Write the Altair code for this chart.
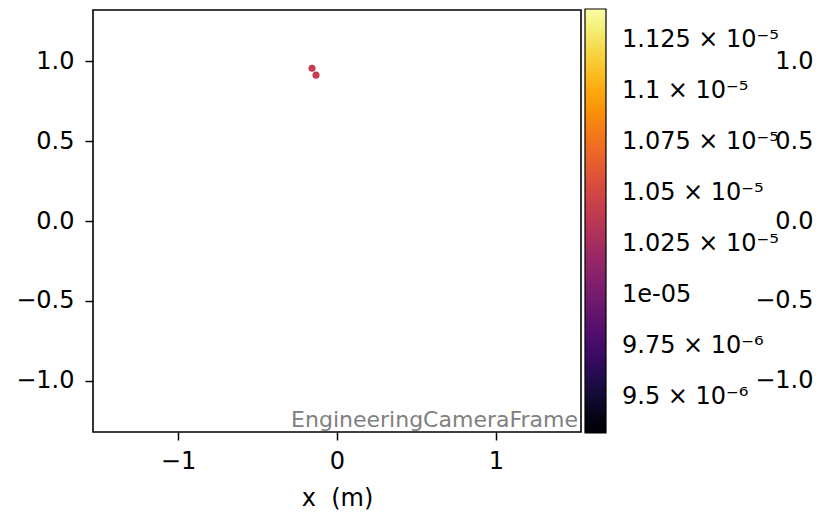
import altair as alt
import pandas as pd

# data
pt_x = [-0.157, -0.132]
pt_y = [0.956, 0.9125]
pt_c = [1.042e-05, 1.042e-05]

x_ticks = [-1, 0, 1]
y_ticks = [-1.0, -0.5, 0.0, 0.5, 1.0]
x_domain = [-1.535, 1.535]
y_domain = [-1.32, 1.32]

cb_domain = [0.9322e-05, 1.1404e-05]
cb_values = [9.5e-06, 9.75e-06, 1.0e-05, 1.025e-05, 1.05e-05, 1.075e-05, 1.1e-05, 1.125e-05]
cb_labels = ["9.5 × 10⁻⁶", "9.75 × 10⁻⁶", "1e-05", "1.025 × 10⁻⁵",
             "1.05 × 10⁻⁵", "1.075 × 10⁻⁵", "1.1 × 10⁻⁵", "1.125 × 10⁻⁵"]

frame_label = ["EngineeringCameraFrame"]
x_title = "x\u00a0 (m)"

pts = pd.DataFrame({"x": pt_x, "y": pt_y, "c": pt_c})
ann = pd.DataFrame({"x": [x_domain[1]], "y": [y_domain[0]], "t": frame_label})

expr = "''"
for v, lab in reversed(list(zip(cb_values, cb_labels))):
    expr = f"abs(datum.value - {v!r}) < 1e-9 ? '{lab}' : {expr}"

FONT = "DejaVu Sans"

xscale = alt.Scale(domain=x_domain, nice=False, zero=False)
yscale = alt.Scale(domain=y_domain, nice=False, zero=False)

xaxis = alt.Axis(values=x_ticks, format="d", grid=False, domain=False,
                 tickColor="black", tickSize=8, tickWidth=1.5,
                 labelFontSize=24, labelColor="black", labelFont=FONT,
                 labelPadding=9, titleFontSize=24, titleFont=FONT,
                 titleFontWeight="normal", titleColor="black", titlePadding=13)

points = alt.Chart(pts).mark_circle(size=50, opacity=1).encode(
    x=alt.X("x:Q", scale=xscale, title=x_title, axis=xaxis),
    y=alt.Y("y:Q", scale=yscale, title=None,
            axis=alt.Axis(values=y_ticks, format=".1f", grid=False, domain=False,
                          tickColor="black", tickSize=8, tickWidth=1.5,
                          labelFontSize=24, labelColor="black", labelFont=FONT,
                          labelPadding=11)),
    color=alt.Color("c:Q", title=None,
                    scale=alt.Scale(scheme="inferno", domain=cb_domain, zero=False, nice=False),
                    legend=alt.Legend(orient="none", legendX=492, legendY=-1,
                                      direction="vertical", gradientLength=424,
                                      gradientThickness=21, gradientStrokeColor="black",
                                      gradientStrokeWidth=1.2, values=cb_values,
                                      labelExpr=expr, labelFontSize=24, labelColor="black",
                                      labelFont=FONT, labelOffset=16, labelOverlap=False,
                                      padding=0)),
)

text = alt.Chart(ann).mark_text(align="right", baseline="bottom", dx=-3, dy=0,
                                fontSize=22, font=FONT, color="#808080").encode(
    x=alt.X("x:Q", scale=xscale, title=x_title, axis=xaxis),
    y=alt.Y("y:Q", scale=yscale, title=None,
            axis=alt.Axis(orient="right", values=y_ticks, format=".1f", grid=False,
                          domain=False, ticks=False, tickSize=0, labelAlign="right",
                          labelPadding=232, labelFontSize=24, labelColor="black",
                          labelFont=FONT)),
    text="t:N",
)

chart = alt.layer(points, text).resolve_scale(y="independent").properties(
    width=488, height=422,
    background="white",
    autosize=alt.AutoSizeParams(type="none"),
    padding={"left": 85, "top": 2, "right": 232, "bottom": 80},
).configure_view(stroke="black", strokeWidth=1.6)

chart.save("out.html", embed_options={"renderer": "svg", "actions": False})
